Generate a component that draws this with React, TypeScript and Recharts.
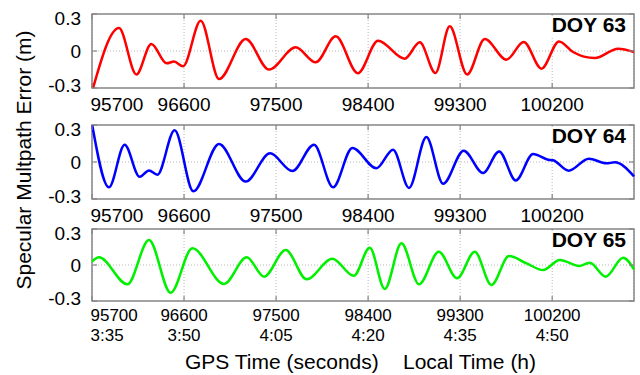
import { LineChart, Line, XAxis, YAxis, CartesianGrid, ReferenceLine, ReferenceArea } from 'recharts';

const xTicks = [95700, 96600, 97500, 98400, 99300, 100200];
const localTimes = ['3:35', '3:50', '4:05', '4:20', '4:35', '4:50'];
const yTicks = [-0.3, 0, 0.3];

// DOY 63 (red)
const doy63Time = [95700, 95964, 96134, 96280, 96430, 96502, 96590, 96763, 96942, 97203, 97431, 97692, 97887, 98083, 98300, 98497, 98758, 98905, 99058, 99198, 99368, 99541, 99752, 99922, 100095, 100267, 100404, 100616, 100845, 101000];
const doy63Error = [-0.33, 0.186, -0.19, 0.057, -0.1, -0.086, -0.124, 0.246, -0.227, 0.097, -0.151, 0.03, -0.092, 0.119, -0.18, 0.084, -0.062, 0.07, -0.178, 0.2, -0.19, 0.097, -0.07, 0.073, -0.143, 0.078, -0.008, -0.057, 0.019, -0.008];

// DOY 64 (blue)
const doy64Time = [95700, 95866, 96019, 96166, 96257, 96339, 96508, 96691, 96942, 97203, 97441, 97659, 97871, 98057, 98246, 98481, 98644, 98800, 98970, 99133, 99335, 99524, 99681, 99844, 100013, 100160, 100209, 100362, 100558, 100730, 100812, 101000];
const doy64Error = [0.31, -0.205, 0.14, -0.12, -0.068, -0.103, 0.257, -0.238, 0.146, -0.159, 0.07, -0.073, 0.14, -0.205, 0.114, -0.051, 0.1, -0.21, 0.203, -0.176, 0.092, -0.089, 0.086, -0.149, 0.065, 0.019, 0.014, -0.07, 0.027, -0.011, -0.003, -0.116];

// DOY 65 (green)
const doy65Time = [95700, 95768, 96046, 96257, 96469, 96681, 96991, 97213, 97382, 97594, 97799, 98050, 98260, 98416, 98563, 98726, 98898, 99091, 99270, 99443, 99606, 99778, 99948, 100111, 100274, 100463, 100567, 100724, 100893, 101000];
const doy65Error = [0.028, 0.064, -0.161, 0.208, -0.231, 0.139, -0.158, 0.064, -0.097, 0.125, -0.119, 0.053, -0.09, 0.144, -0.2, 0.181, -0.161, 0.111, -0.111, 0.111, -0.167, 0.075, 0.014, -0.042, 0.042, -0.008, 0.019, -0.097, 0.061, -0.036];

const FONT = '"Liberation Sans", Arial, Helvetica, sans-serif';
const FRAME = '#858585';
const GRID = '#b8b8b8';

const toRows = (t: number[], v: number[]) => t.map((x, i) => ({ t: x, v: v[i] }));

const XTick = (props: any) => {
  const { x, y, payload, plotHeight, showLocal } = props;
  const idx = xTicks.indexOf(payload.value);
  const first = idx === 0;
  const tx = first ? x - 1.5 : x;
  const anchor = first ? 'start' : 'middle';
  const size = showLocal ? 17 : 19;
  return (
    <g>
      <line x1={x} y1={y} x2={x} y2={y - 5} stroke={FRAME} strokeWidth={1.2} />
      <line x1={x} y1={y - plotHeight} x2={x} y2={y - plotHeight + 5} stroke={FRAME} strokeWidth={1.2} />
      <text x={tx} y={y + (showLocal ? 20 : 22.5)} textAnchor={anchor} fontSize={size} fontFamily={FONT} fill="#000">
        {payload.value}
      </text>
      {showLocal && (
        <text x={tx} y={y + 39.5} textAnchor={anchor} fontSize={size} fontFamily={FONT} fill="#000">
          {localTimes[idx]}
        </text>
      )}
    </g>
  );
};

const YTick = (props: any) => {
  const { x, y, payload } = props;
  const v = payload.value;
  const nudge = v > 0 ? 4 : v < 0 ? -3 : 0;
  const label = v === 0 ? '0' : v.toFixed(1);
  return (
    <g>
      <line x1={x} y1={y} x2={x + 5} y2={y} stroke={FRAME} strokeWidth={1.2} />
      <line x1={x + 542} y1={y} x2={x + 537} y2={y} stroke={FRAME} strokeWidth={1.2} />
      <text x={x - 11} y={y + 6.8 + nudge} textAnchor="end" fontSize={19} fontFamily={FONT} fill="#000">
        {label}
      </text>
    </g>
  );
};

interface PanelProps {
  rows: { t: number; v: number }[];
  color: string;
  top: number;
  plotHeight: number;
  showLocal?: boolean;
}

function Panel({ rows, color, top, plotHeight, showLocal = false }: PanelProps) {
  return (
    <div style={{ position: 'absolute', left: 0, top }}>
      <LineChart width={640} height={10 + plotHeight + 45} data={rows} margin={{ top: 10, right: 6, bottom: 0, left: 0 }}>
        <CartesianGrid vertical horizontal={false} stroke={GRID} strokeDasharray="1 2" />
        <ReferenceLine y={0} stroke={GRID} strokeDasharray="1 2" />
        <XAxis
          dataKey="t"
          type="number"
          domain={[95700, 101000]}
          ticks={xTicks}
          axisLine={false}
          tickLine={false}
          tickSize={0}
          tickMargin={0}
          height={45}
          interval={0}
          tick={(p: any) => <XTick {...p} plotHeight={plotHeight} showLocal={showLocal} />}
        />
        <YAxis
          type="number"
          domain={[-0.3, 0.3]}
          ticks={yTicks}
          allowDataOverflow
          axisLine={false}
          tickLine={false}
          tickSize={0}
          tickMargin={0}
          width={92}
          interval={0}
          tick={(p: any) => <YTick {...p} />}
        />
        <Line type="monotone" dataKey="v" stroke={color} strokeWidth={2.5} dot={false} isAnimationActive={false} />
        <ReferenceArea x1={95700} x2={101000} y1={-0.3} y2={0.3} fill="none" stroke={FRAME} strokeWidth={1.5} />
      </LineChart>
    </div>
  );
}

const doyLabels = [
  { text: 'DOY 63', top: 14 },
  { text: 'DOY 64', top: 125 },
  { text: 'DOY 65', top: 229 },
];

export default function App() {
  return (
    <div style={{ position: 'absolute', left: 0, top: 0, width: 640, height: 375, background: '#fff', overflow: 'hidden' }}>
      <Panel rows={toRows(doy63Time, doy63Error)} color="#ff0000" top={4} plotHeight={74} />
      <Panel rows={toRows(doy64Time, doy64Error)} color="#0000ff" top={115} plotHeight={74} />
      <Panel rows={toRows(doy65Time, doy65Error)} color="#00f000" top={219} plotHeight={72} showLocal />
      <svg width={640} height={375} style={{ position: 'absolute', left: 0, top: 0, pointerEvents: 'none' }}>
        {doyLabels.map((d) => (
          <g key={d.text}>
            <rect x={548} y={d.top + 1.5} width={84} height={21} fill="#fff" />
            <text x={626} y={d.top + 17.5} textAnchor="end" fontSize={21} fontWeight="bold" fontFamily={FONT} fill="#000">
              {d.text}
            </text>
          </g>
        ))}
        <text
          x={31}
          y={160}
          transform="rotate(-90, 31, 160)"
          textAnchor="middle"
          fontSize={21}
          fontFamily={FONT}
          fill="#000"
        >
          Specular Multpath Error (m)
        </text>
        <text x={185} y={369} fontSize={21} fontFamily={FONT} fill="#000">
          GPS Time (seconds)
        </text>
        <text x={403} y={369} fontSize={21} fontFamily={FONT} fill="#000">
          Local Time (h)
        </text>
      </svg>
    </div>
  );
}
